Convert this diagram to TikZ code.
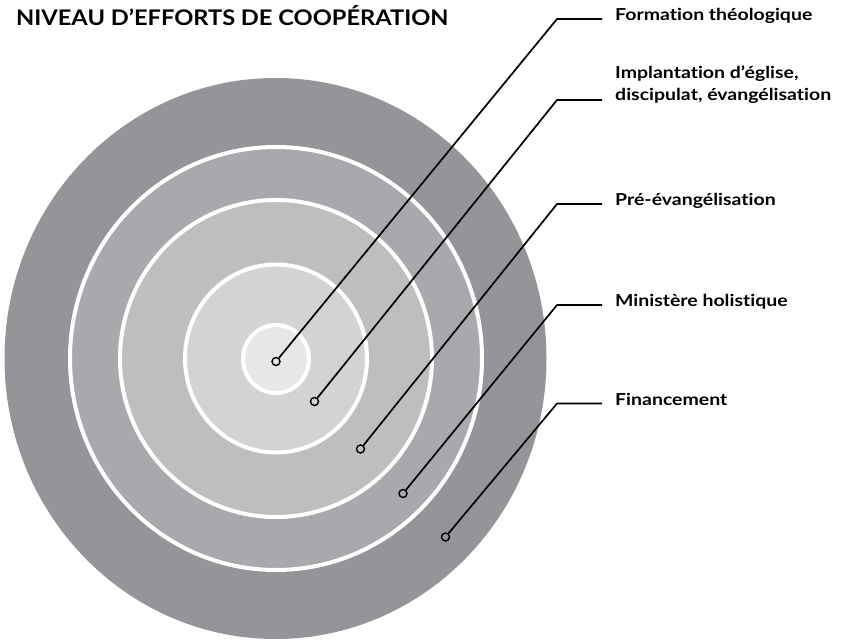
\documentclass[tikz,border=0pt]{standalone}
\usepackage{fontspec}
\setmainfont{Lato}[FakeStretch=1.18,Ligatures=NoCommon]
\newfontfamily\headfont{Lato}[FakeStretch=1.1,Ligatures=NoCommon]
\definecolor{ringA}{HTML}{939598}
\definecolor{ringB}{HTML}{A7A9AC}
\definecolor{ringC}{HTML}{BCBEC0}
\definecolor{ringD}{HTML}{D1D3D4}
\definecolor{ringE}{HTML}{E6E7E8}
\tikzset{
  ring/.style={draw=white,line width=4pt},
  pin/.style={circle,draw=black,line width=1.4pt,inner sep=0pt,minimum size=8pt},
  lead/.style={draw=black,line width=1.7pt},
  lab/.style={anchor=base west,inner sep=0pt,align=left,font=\bfseries\fontsize{16.5}{21.7}\selectfont}
}
\begin{document}
\begin{tikzpicture}[x=1pt,y=-1pt]
\useasboundingbox (0,0) rectangle (849,644);

\fill[ringA] (275.5,358.5) ellipse [x radius=271pt, y radius=280.5pt];
\filldraw[ringB,ring] (276,358.5) ellipse [x radius=206pt, y radius=211.5pt];
\filldraw[ringC,ring] (276,358.5) ellipse [x radius=156pt, y radius=158.5pt];
\filldraw[ringD,ring] (276,358.5) ellipse [x radius=91pt, y radius=94pt];
\filldraw[ringE,ring] (276,359) ellipse [x radius=33pt, y radius=34pt];

\node[anchor=base west,inner sep=0pt,font=\headfont\bfseries\fontsize{21.5}{26}\selectfont] (title) at (16,25.5) {NIVEAU D’EFFORTS DE COOPÉRATION};

\node[pin] (dotA) at (276,361.5) {};
\node[pin] (dotB) at (314.5,401.5) {};
\node[pin] (dotC) at (360.5,449) {};
\node[pin] (dotD) at (403,493.5) {};
\node[pin] (dotE) at (445.5,537) {};

\coordinate (bendA) at (557,19);
\coordinate (bendB) at (557,100);
\coordinate (bendC) at (557,204);
\coordinate (bendD) at (557,305);
\coordinate (bendE) at (557,403.5);

\coordinate (endA) at (602,19);
\coordinate (endB) at (602,100);
\coordinate (endC) at (602,204);
\coordinate (endD) at (602,305);
\coordinate (endE) at (602,403.5);

\node[lab] (labA) at (615,20.5) {Formation théologique};
\node[lab] (labB) at (615,100.5) {Implantation d’église,\\discipulat, évangélisation};
\node[lab] (labC) at (615,205.5) {Pré-évangélisation};
\node[lab] (labD) at (615,306.5) {Ministère holistique};
\node[lab] (labE) at (615,405) {Financement};

\draw[lead] (dotA) -- (bendA) -- (endA);
\draw[lead] (dotB) -- (bendB) -- (endB);
\draw[lead] (dotC) -- (bendC) -- (endC);
\draw[lead] (dotD) -- (bendD) -- (endD);
\draw[lead] (dotE) -- (bendE) -- (endE);
\end{tikzpicture}
\end{document}
